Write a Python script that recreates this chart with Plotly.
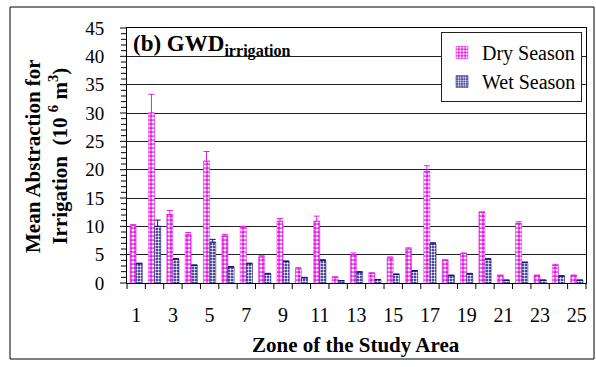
import plotly.graph_objects as go

zones = list(range(1, 26))
dry = [10.1, 30.0, 12.1, 8.5, 21.5, 8.3, 9.9, 4.6, 10.9, 2.5, 10.9, 1.0, 5.0,
       1.7, 4.4, 6.0, 19.7, 4.0, 5.2, 12.5, 1.3, 10.5, 1.3, 3.1, 1.3]
dry_err = [0.2, 3.3, 0.7, 0.4, 1.7, 0.3, 0.1, 0.2, 0.5, 0.2, 0.9, 0.1, 0.3,
           0.1, 0.2, 0.2, 1.0, 0.1, 0.1, 0.0, 0.1, 0.3, 0.1, 0.2, 0.1]
wet = [3.4, 10.0, 4.2, 3.1, 7.2, 2.8, 3.4, 1.6, 3.8, 0.9, 4.0, 0.4, 1.9,
       0.6, 1.5, 2.1, 6.9, 1.3, 1.6, 4.2, 0.5, 3.6, 0.5, 1.2, 0.5]
wet_err = [0.1, 1.1, 0.1, 0.1, 0.5, 0.1, 0.1, 0.1, 0.1, 0.1, 0.1, 0.0, 0.1,
           0.0, 0.1, 0.1, 0.2, 0.1, 0.1, 0.1, 0.0, 0.1, 0.0, 0.1, 0.0]
xtick_vals = list(range(1, 26, 2))
X_RANGE = [0.5, 25.5]
Y_RANGE = [0, 45]
x_bounds = [i + 0.5 for i in range(0, 26)]
y_minor = list(range(0, 46))

FONT = "Liberation Serif"
MAG = "#E81CE8"
NAVY = "#10107A"

fig = go.Figure()
fig.add_trace(go.Bar(
    x=zones, y=dry, name="Dry Season",
    marker=dict(color=MAG, line=dict(color=MAG, width=0.5),
                pattern=dict(shape=".", fgcolor="white", bgcolor=MAG, size=4, solidity=0.45)),
    error_y=dict(type="data", array=dry_err, arrayminus=[0]*25, color=MAG, thickness=1, width=3),
))
fig.add_trace(go.Bar(
    x=zones, y=wet, name="Wet Season",
    marker=dict(color=NAVY, line=dict(color=NAVY, width=0.5),
                pattern=dict(shape=".", fgcolor="white", bgcolor=NAVY, size=3, solidity=0.5)),
    error_y=dict(type="data", array=wet_err, arrayminus=[0]*25, color=NAVY, thickness=1, width=3),
))

W, H = 596, 367
L, R, T, B = 127, 10, 28, 84
pw, ph = W - L - R, H - T - B

def px(x):
    return (x - L) / pw

def py(y):
    return (H - B - y) / ph

def xfrac(v):
    return (v - X_RANGE[0]) / (X_RANGE[1] - X_RANGE[0])

def yfrac(v):
    return (v - Y_RANGE[0]) / (Y_RANGE[1] - Y_RANGE[0])

# axis tick marks (paper refs so they are not clipped to the plot area)
tick_shapes = []
for xb in x_bounds:
    xf = xfrac(xb)
    tick_shapes.append(dict(type="line", xref="paper", yref="paper", x0=xf, x1=xf,
                            y0=0, y1=-6 / ph, line=dict(color="black", width=1)))
for yv in y_minor:
    ln = 7 if yv % 5 == 0 else 6
    yf = yfrac(yv)
    tick_shapes.append(dict(type="line", xref="paper", yref="paper", x0=-ln / pw, x1=0,
                            y0=yf, y1=yf, line=dict(color="black", width=1)))

fig.update_layout(
    template="none",
    width=W, height=H,
    margin=dict(l=L, r=R, t=T, b=B),
    paper_bgcolor="white", plot_bgcolor="white",
    barmode="group", bargap=0.33, bargroupgap=0.0,
    font=dict(family=FONT, color="black", size=19),
    showlegend=True,
    legend=dict(x=px(582), y=py(32), xanchor="right", yanchor="top",
                bgcolor="white", bordercolor="#222", borderwidth=1,
                font=dict(family=FONT, size=20, color="black"),
                itemwidth=30, tracegroupgap=2),
    xaxis=dict(range=X_RANGE, tickmode="array", tickvals=xtick_vals,
               ticktext=[str(v) for v in xtick_vals], ticks="",
               showline=True, linecolor="black", linewidth=1, mirror=True,
               showgrid=False, zeroline=False, ticklabelstandoff=14,
               tickfont=dict(family=FONT, size=20)),
    yaxis=dict(range=Y_RANGE, tickmode="linear", tick0=0, dtick=5, ticks="",
               showline=True, linecolor="black", linewidth=1, mirror=True,
               showgrid=True, gridcolor="#222", gridwidth=1, zeroline=False,
               ticklabelstandoff=18, tickfont=dict(family=FONT, size=19)),
    annotations=[
        dict(text="<b>(b) GWD<sub>irrigation</sub></b>", xref="paper", yref="paper",
             x=px(131), y=py(29), xanchor="left", yanchor="top", showarrow=False,
             font=dict(family=FONT, size=23)),
        dict(text="<b>Mean Abstraction for<br>Irrigation  (10 <sup>6</sup> m<sup>3</sup>)</b>",
             xref="paper", yref="paper", x=px(46), y=py(156), xanchor="center", yanchor="middle",
             textangle=-90, showarrow=False, font=dict(family=FONT, size=21)),
        dict(text="<b>Zone of the Study Area</b>", xref="paper", yref="paper",
             x=px(356), y=py(345), xanchor="center", yanchor="middle", showarrow=False,
             font=dict(family=FONT, size=21)),
    ],
    shapes=[dict(type="rect", xref="paper", yref="paper",
                 x0=px(10), x1=px(594), y0=py(359), y1=py(7),
                 line=dict(color="black", width=1), fillcolor="rgba(0,0,0,0)", layer="below")]
           + tick_shapes,
)

fig.write_html("out.html")
